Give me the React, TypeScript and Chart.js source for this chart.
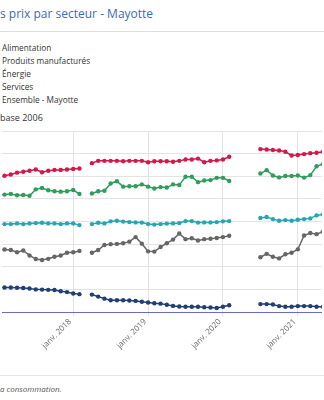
import React, { useEffect, useRef } from 'react';
import { Chart, registerables } from 'chart.js';

Chart.register(...registerables);

// Monthly index (base 2006), Jan 2017 .. May 2021 ; null = no survey
const months = [
  '2017-01', '2017-02', '2017-03', '2017-04', '2017-05', '2017-06', '2017-07', '2017-08', '2017-09', '2017-10', '2017-11', '2017-12',
  '2018-01', '2018-02', '2018-03', '2018-04', '2018-05', '2018-06', '2018-07', '2018-08', '2018-09', '2018-10', '2018-11', '2018-12',
  '2019-01', '2019-02', '2019-03', '2019-04', '2019-05', '2019-06', '2019-07', '2019-08', '2019-09', '2019-10', '2019-11', '2019-12',
  '2020-01', '2020-02', '2020-03', '2020-04', '2020-05', '2020-06', '2020-07', '2020-08', '2020-09', '2020-10', '2020-11', '2020-12',
  '2021-01', '2021-02', '2021-03', '2021-04', '2021-05',
];

const alimentation = [
  129.9, 130.1, 130.4, 130.8, 131.0, 131.2, 131.5, 130.9, 131.2, 131.4, 131.4, 131.5,
  131.6, 131.7, null, 132.9, 133.4, 133.4, 133.4, 133.4, 133.3, 133.4, 133.4, 133.4,
  133.1, 133.3, 133.3, 133.3, 133.2, 133.4, 133.7, 133.7, 133.9, 133.1, 133.4, 133.5,
  133.7, 134.3, null, null, null, null, 136.0, 135.9, 135.8, 135.7, 135.4, 134.6,
  134.7, 134.9, 135.1, 135.2, 135.4,
];

const produitsManufactures = [
  105.45, 105.4, 105.4, 105.35, 105.3, 105.2, 105.0, 104.95, 104.9, 104.85, 104.6, 104.4,
  104.1, 103.95, null, 103.85, 103.4, 102.95, 102.6, 102.6, 102.6, 102.55, 102.45, 102.25,
  102.1, 101.95, 101.85, 101.6, 101.35, 101.2, 101.15, 101.15, 101.15, 101.05, 101.0, 100.9,
  101.15, 101.5, null, null, null, null, 101.75, 101.75, 101.65, 101.3, 101.15, 101.15,
  101.3, 101.3, 101.3, 101.15, 101.15,
];

const energie = [
  113.7, 113.8, 113.7, 113.2, 113.6, 112.5, 111.7, 111.5, 111.75, 112.2, 112.5, 113.1,
  113.2, 113.5, null, 113.1, 113.7, 114.8, 115.0, 115.05, 115.2, 115.55, 116.55, 115.1,
  113.4, 113.35, 114.35, 115.2, 116.0, 117.35, 116.1, 116.3, 115.8, 116.1, 116.2, 116.35,
  116.55, 116.85, null, null, null, null, 112.1, 112.85, 112.2, 111.85, 112.75, 113.1,
  113.85, 116.9, 117.45, 117.2, 117.75,
];

const services = [
  125.8, 125.95, 126.1, 125.8, 125.85, 125.7, 127.1, 127.4, 126.9, 126.7, 126.6, 126.7,
  126.95, 126.1, null, 126.2, 126.7, 126.8, 128.4, 128.9, 127.7, 127.8, 127.8, 128.2,
  127.7, 127.3, 127.6, 127.5, 128.2, 128.05, 129.9, 129.9, 128.7, 129.05, 129.15, 129.65,
  129.65, 128.95, null, null, null, null, 130.6, 131.35, 130.15, 129.75, 130.05, 130.05,
  130.15, 129.7, 130.25, 132.2, 132.7,
];

const ensemble = [
  119.4, 119.43, 119.43, 119.58, 119.43, 119.58, 119.65, 119.72, 119.58, 119.58, 119.43, 119.58,
  119.58, 119.2, null, 119.43, 119.72, 119.58, 120.03, 120.16, 119.98, 119.87, 119.8, 119.76,
  119.43, 119.32, 119.43, 119.54, 119.58, 119.65, 120.09, 120.09, 119.76, 119.8, 119.8, 119.87,
  120.03, 120.09, null, null, null, null, 120.76, 120.98, 120.53, 120.16, 120.31, 120.16,
  120.38, 120.53, 120.69, 121.35, 121.57,
];

const seriesNames = ['Alimentation', 'Produits manufacturés', 'Énergie', 'Services', 'Ensemble - Mayotte'];
const seriesColors = ['#d5174c', '#213f73', '#666666', '#2f9d5c', '#27a6b2'];
const seriesValues = [alimentation, produitsManufactures, energie, services, ensemble];

const xTickValues = [12, 24, 36, 48];
const xTickLabels = ['janv. 2018', 'janv. 2019', 'janv. 2020', 'janv. 2021'];

const titleText = 's prix par secteur - Mayotte';
const subtitleText = 'base 2006';
const footerText = 'a consommation.';

const FONT = "'Open Sans', 'Noto Sans', sans-serif";

export default function App() {
  const canvasRef = useRef<HTMLCanvasElement | null>(null);

  useEffect(() => {
    if (!canvasRef.current) return;
    const datasets = seriesNames.map((name, k) => ({
      label: name,
      data: months.map((_, i) => ({ x: i, y: seriesValues[k][i] })),
      borderColor: seriesColors[k],
      backgroundColor: seriesColors[k],
      borderWidth: 1.5,
      pointRadius: 2.2,
      pointBorderWidth: 0,
      pointHoverRadius: 2.2,
      spanGaps: false,
      tension: 0,
    }));

    const chart = new Chart(canvasRef.current, {
      type: 'line',
      data: { datasets },
      options: {
        animation: false,
        responsive: true,
        maintainAspectRatio: false,
        layout: { padding: { top: 10, left: 0, right: 0, bottom: 0 } },
        plugins: { legend: { display: false }, tooltip: { enabled: false }, title: { display: false } },
        scales: {
          x: {
            type: 'linear',
            min: 0.62,
            max: 51.84,
            afterBuildTicks: (scale: any) => {
              scale.ticks = xTickValues.map((v) => ({ value: v }));
            },
            afterFit: (scale: any) => {
              scale.height = 60;
            },
            ticks: {
              autoSkip: false,
              minRotation: 45,
              maxRotation: 45,
              padding: 1,
              labelOffset: -3,
              color: '#666666',
              font: { family: FONT, size: 8 },
              callback: (value: any) => {
                const idx = xTickValues.indexOf(Number(value));
                return idx >= 0 ? xTickLabels[idx] : '';
              },
            },
            grid: { color: '#e3e3e3', tickLength: 4, lineWidth: 1 },
            border: { display: true, color: '#6b6bc4', width: 1 },
          },
          y: {
            type: 'linear',
            min: 100,
            max: 140,
            ticks: { display: false, stepSize: 5 },
            grid: { color: '#e3e3e3', drawTicks: false, lineWidth: 1 },
            border: { display: false },
            afterFit: (scale: any) => {
              scale.width = 0;
            },
          },
        },
      },
    });
    return () => chart.destroy();
  }, []);

  const textBase: React.CSSProperties = { position: 'absolute', left: 0, whiteSpace: 'nowrap', fontFamily: FONT };

  return (
    <div style={{ position: 'absolute', left: 0, top: 0, width: 324, height: 400, overflow: 'hidden', background: '#fff' }}>
      <div style={{ ...textBase, top: 6, fontSize: 12, lineHeight: '16px', color: '#3d6cb0' }}>{titleText}</div>
      <div style={{ position: 'absolute', left: 0, top: 31, width: 324, height: 1, background: '#dedede' }} />
      <div style={{ ...textBase, left: 2, top: 40.5, fontSize: 8.25, lineHeight: '13px', color: '#333' }}>
        {seriesNames.map((n) => (
          <div key={n}>{n}</div>
        ))}
      </div>
      <div style={{ ...textBase, top: 110.5, fontSize: 9, lineHeight: '13px', color: '#333' }}>{subtitleText}</div>
      <div style={{ position: 'absolute', left: 0, top: 121, width: 324, height: 251 }}>
        <canvas ref={canvasRef} />
      </div>
      <div style={{ position: 'absolute', left: 0, top: 375, width: 324, height: 1, background: '#e3e3e3' }} />
      <div style={{ ...textBase, top: 381.5, fontSize: 8, lineHeight: '13px', color: '#555', fontStyle: 'italic' }}>{footerText}</div>
    </div>
  );
}
